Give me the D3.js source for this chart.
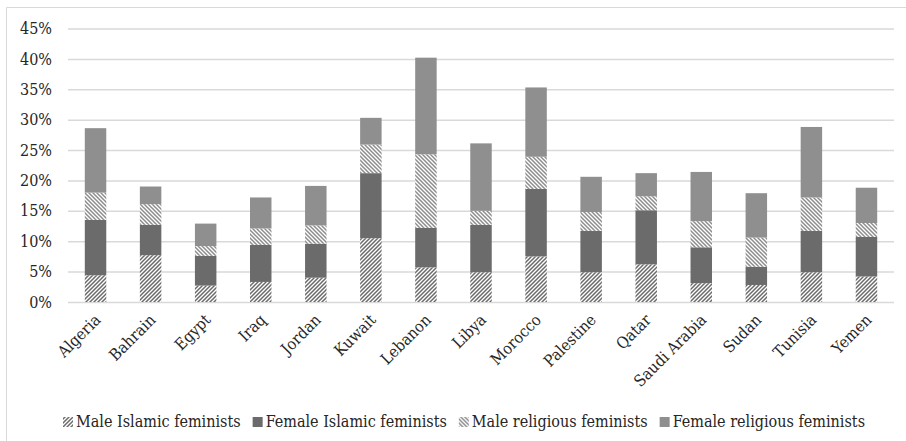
<!DOCTYPE html>
<html>
<head>
<meta charset="utf-8">
<script src="https://cdn.jsdelivr.net/npm/d3@7"></script>
<style>
  html, body { margin: 0; padding: 0; background: #fff; }
  svg { display: block; }
  text { font-family: "DejaVu Serif Condensed", "DejaVu Serif", serif; fill: #262626; }
</style>
</head>
<body>
<svg id="chart" width="906" height="441"></svg>
<script>
// Countries along the x axis
const countries = ["Algeria", "Bahrain", "Egypt", "Iraq", "Jordan", "Kuwait", "Lebanon", "Libya",
  "Morocco", "Palestine", "Qatar", "Saudi Arabia", "Sudan", "Tunisia", "Yemen"];

// Series names, stacked bottom to top
const seriesNames = ["Male Islamic feminists", "Female Islamic feminists",
  "Male religious feminists", "Female religious feminists"];

// Shares (%) per country for each series
const maleIslamic     = [4.4, 7.7, 2.7, 3.3, 4.0, 10.5, 5.7, 4.9, 7.5, 4.9, 6.2, 3.1, 2.8, 4.9, 4.2];
const femaleIslamic   = [9.1, 5.0, 4.9, 6.1, 5.6, 10.7, 6.5, 7.8, 11.1, 6.8, 8.9, 5.9, 3.0, 6.8, 6.5];
const maleReligious   = [4.5, 3.4, 1.6, 2.7, 3.0, 4.7, 12.1, 2.3, 5.3, 3.1, 2.3, 4.3, 4.8, 5.5, 2.3];
const femaleReligious = [10.6, 2.9, 3.7, 5.1, 6.5, 4.4, 15.9, 11.1, 11.4, 5.8, 3.8, 8.1, 7.3, 11.6, 5.8];

// Y axis ticks
const yTicks = [0, 5, 10, 15, 20, 25, 30, 35, 40, 45];

const table = countries.map((c, i) => ({
  country: c,
  [seriesNames[0]]: maleIslamic[i],
  [seriesNames[1]]: femaleIslamic[i],
  [seriesNames[2]]: maleReligious[i],
  [seriesNames[3]]: femaleReligious[i]
}));

const svg = d3.select("#chart");

// Fill patterns: diagonal hatching for the male series
const defs = svg.append("defs");
function hatch(id, color, forward) {
  const p = defs.append("pattern")
    .attr("id", id)
    .attr("patternUnits", "userSpaceOnUse")
    .attr("width", 4).attr("height", 4);
  p.append("rect").attr("width", 4).attr("height", 4).attr("fill", "#fff");
  p.append("path")
    .attr("d", forward
      ? "M-1,1 l2,-2 M0,4 l4,-4 M3,5 l2,-2"
      : "M-1,3 l2,2 M0,0 l4,4 M3,-1 l2,2")
    .attr("stroke", color)
    .attr("stroke-width", 1.5)
    .attr("shape-rendering", "auto");
}
hatch("hatchMaleIslamic", "#6a6a6a", true);
hatch("hatchMaleReligious", "#8c8c8c", false);

const fills = ["url(#hatchMaleIslamic)", "#6b6b6b", "url(#hatchMaleReligious)", "#8f8f8f"];
const swatchFills = fills;

// Chart frame
svg.append("path")
  .attr("d", "M6.5,441 V7.5 H906")
  .attr("fill", "none")
  .attr("stroke", "#d9d9d9")
  .attr("stroke-width", 1);

const x = d3.scaleBand()
  .domain(countries)
  .range([68, 894])
  .paddingInner(0.61)
  .paddingOuter(0.305);

const y = d3.scaleLinear()
  .domain([0, 45])
  .range([302, 28.5]);

// Gridlines and y labels
const yAxis = d3.axisLeft(y)
  .tickValues(yTicks)
  .tickSize(-(894 - 68))
  .tickPadding(16)
  .tickFormat(d => d + "%");

const gy = svg.append("g")
  .attr("transform", "translate(68,0)")
  .call(yAxis);
gy.select(".domain").remove();
gy.selectAll(".tick line").attr("stroke", "#d9d9d9").attr("stroke-width", 1.5);
gy.selectAll(".tick text")
  .attr("font-size", 16)
  .attr("fill", "#262626");

// Stacked bars
const stack = d3.stack().keys(seriesNames);
const layers = stack(table);

svg.append("g").selectAll("g")
  .data(layers)
  .join("g")
  .attr("fill", (d, i) => fills[i])
  .selectAll("rect")
  .data(d => d)
  .join("rect")
  .attr("x", d => x(d.data.country))
  .attr("width", x.bandwidth())
  .attr("y", d => y(d[1]))
  .attr("height", d => y(d[0]) - y(d[1]));

// Category labels, rotated
const xAxis = d3.axisBottom(x).tickSize(0).tickPadding(0);
const gx = svg.append("g")
  .attr("transform", "translate(0,302)")
  .call(xAxis);
gx.select(".domain").remove();
gx.selectAll(".tick text")
  .attr("font-size", 16)
  .attr("fill", "#262626")
  .attr("text-anchor", "end")
  .attr("dy", null)
  .attr("y", null)
  .attr("transform", "translate(6,19) rotate(-45)");

// Legend
const legend = svg.append("g");
let lx = 0;
seriesNames.forEach((name, i) => {
  const item = legend.append("g").attr("transform", `translate(${lx},0)`);
  item.append("rect")
    .attr("x", 0).attr("y", -10)
    .attr("width", 10).attr("height", 10)
    .attr("fill", swatchFills[i]);
  const t = item.append("text")
    .attr("x", 13).attr("y", 0)
    .attr("font-size", 16)
    .text(name);
  lx += 13 + t.node().getComputedTextLength() + 12;
});
const legendWidth = lx - 12;
legend.attr("transform", `translate(${464 - legendWidth / 2},427)`);
</script>
</body>
</html>
